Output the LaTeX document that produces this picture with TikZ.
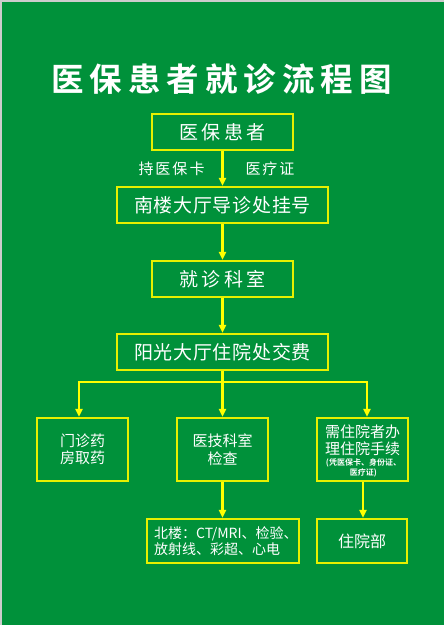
\documentclass[tikz,border=0pt]{standalone}
\usepackage{fontspec}
\usetikzlibrary{arrows.meta}
\newfontfamily\titlefont{Noto Sans CJK SC Bold}
\newfontfamily\labelfont{Noto Sans CJK SC}
\newfontfamily\songfont{Noto Sans CJK SC}[BoldFont=Noto Sans CJK SC Bold]
\definecolor{bggreen}{HTML}{00913A}
\definecolor{boxyellow}{HTML}{E6F000}
\definecolor{arrowyellow}{HTML}{FFFF00}
\begin{document}
\begin{tikzpicture}[x=1pt,y=-1pt,
  flowbox/.style={draw=boxyellow,line width=2.1pt,inner sep=0pt,text=white,font=\songfont,align=center},
  conn/.style={draw=arrowyellow,line width=2.1pt},
  arr/.style={conn,-{Triangle[length=8pt,width=7pt]}},
  txt/.style={text=white,inner sep=0pt,font=\songfont,align=center}]
\useasboundingbox (0,0) rectangle (444,625);
\fill[gray!40] (0,0) rectangle (444,625);
\fill[bggreen] (1.5,1.5) rectangle (444,625);
% title
\node[text=white,font=\titlefont\fontsize{32.5}{36}\selectfont,inner sep=0pt] (title) at (221.5,79)
  {医\hspace{6pt}保\hspace{6pt}患\hspace{6pt}者\hspace{6pt}就\hspace{6pt}诊\hspace{6pt}流\hspace{6pt}程\hspace{6pt}图};
% main boxes
\node[flowbox,minimum width=141pt,minimum height=36pt,font=\songfont\fontsize{19}{22}\selectfont] (b1) at (222.5,132)
  {医\hspace{3.5pt}保\hspace{3.5pt}患\hspace{3.5pt}者};
\node[flowbox,minimum width=211pt,minimum height=36pt,font=\songfont\fontsize{19}{22}\selectfont] (b2) at (222.5,205)
  {南\hspace{0.7pt}楼\hspace{0.7pt}大\hspace{0.7pt}厅\hspace{0.7pt}导\hspace{0.7pt}诊\hspace{0.7pt}处\hspace{0.7pt}挂\hspace{0.7pt}号};
\node[flowbox,minimum width=141pt,minimum height=36pt,font=\songfont\fontsize{19}{22}\selectfont] (b3) at (222.5,279)
  {就\hspace{3.5pt}诊\hspace{3.5pt}科\hspace{3.5pt}室};
\node[flowbox,minimum width=211pt,minimum height=36pt,font=\songfont\fontsize{19}{22}\selectfont] (b4) at (222.5,352)
  {阳\hspace{0.7pt}光\hspace{0.7pt}大\hspace{0.7pt}厅\hspace{0.7pt}住\hspace{0.7pt}院\hspace{0.7pt}处\hspace{0.7pt}交\hspace{0.7pt}费};
% labels
\node[txt,font=\labelfont\fontsize{15}{18}\selectfont] (l1) at (171.5,169)
  {持\hspace{2pt}医\hspace{2pt}保\hspace{2pt}卡};
\node[txt,font=\labelfont\fontsize{15}{18}\selectfont] (l2) at (270,169)
  {医\hspace{2pt}疗\hspace{2pt}证};
% lower boxes
\node[flowbox,minimum width=91pt,minimum height=63pt,font=\songfont\fontsize{15}{17.5}\selectfont] (b5) at (82.5,449.5)
  {门诊药\\房取药};
\node[flowbox,minimum width=91pt,minimum height=63pt,font=\songfont\fontsize{15}{17.5}\selectfont] (b6) at (222.5,449.5)
  {医技科室\\检查};
\node[flowbox,minimum width=91pt,minimum height=63pt] (b7) at (362.5,449.5) {};
\node[txt,font=\songfont\fontsize{15}{17.5}\selectfont] (t7a) at (362.5,440) {需住院者办\\理住院手续};
\node[txt,font=\songfont\bfseries\fontsize{8}{10}\selectfont] (t7b) at (363.5,468) {(凭医保卡、身份证、\\医疗证)};
\node[flowbox,minimum width=152pt,minimum height=44pt] (b8) at (223,541) {};
\node[txt,anchor=west,align=left,font=\songfont\fontsize{14}{16.5}\selectfont] (t8) at (154,541)
  {北楼：CT/MRI、检验、\\放射线、彩超、心电};
\node[flowbox,minimum width=90pt,minimum height=44pt,font=\songfont\fontsize{16}{19}\selectfont] (b9) at (362,541) {住院部};
% connectors
\coordinate (j) at (222.5,382);
\coordinate (jl) at (79,382);
\coordinate (jr) at (367,382);
\draw[arr] (b1.south) -- (b2.north);
\draw[arr] (b2.south) -- (b3.north);
\draw[arr] (b3.south) -- (b4.north);
\draw[conn] (b4.south) -- (j);
\draw[conn] ([xshift=-1.05pt]jl) -- ([xshift=1.05pt]jr);
\draw[arr] (jl) -- (jl |- b5.north);
\draw[arr] (j) -- (b6.north);
\draw[arr] (jr) -- (jr |- b7.north);
\draw[arr] (b6.south) -- (b6.south |- b8.north);
\draw[arr] ([xshift=0.5pt]b7.south) -- ([xshift=0.5pt]b7.south |- b9.north);
\end{tikzpicture}
\end{document}
